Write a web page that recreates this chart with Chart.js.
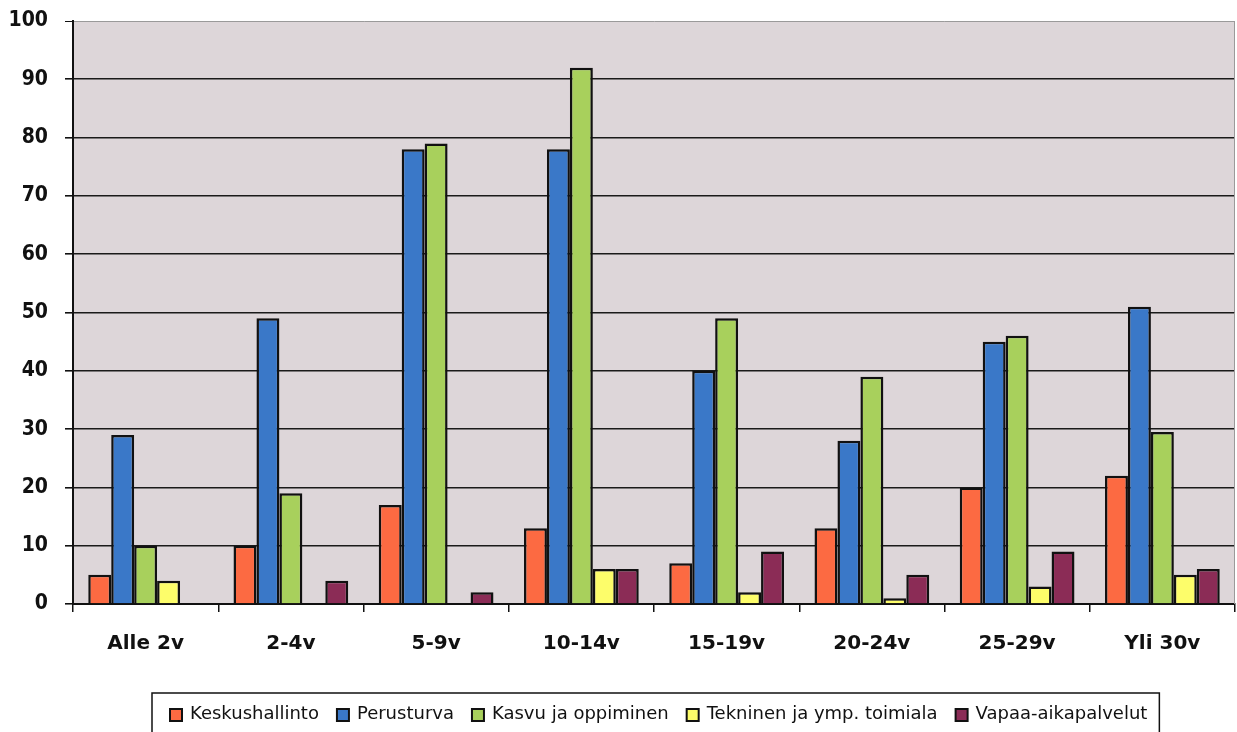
<!DOCTYPE html>
<html>
<head>
<meta charset="utf-8">
<script src="https://cdn.jsdelivr.net/npm/chart.js@4/dist/chart.umd.min.js"></script>
<style>
  html, body { margin: 0; padding: 0; background: #ffffff; }
  #wrap { width: 1237px; height: 732px; position: relative; }
</style>
</head>
<body>
<div id="wrap"><canvas id="c" width="1237" height="732"></canvas></div>
<script>
// Age-of-service groups (years)
const categories = ['Alle 2v', '2-4v', '5-9v', '10-14v', '15-19v', '20-24v', '25-29v', 'Yli 30v'];

// Headcount per department
const keskushallinto = [5, 10, 17, 13, 7, 13, 20, 22];
const perusturva     = [29, 49, 78, 78, 40, 28, 45, 51];
const kasvuJaOppiminen = [10, 19, 79, 92, 49, 39, 46, 29.5];
const tekninen       = [4, 0, 0, 6, 2, 1, 3, 5];
const vapaaAika      = [0, 4, 2, 6, 9, 5, 9, 6];

const seriesNames = ['Keskushallinto', 'Perusturva', 'Kasvu ja oppiminen', 'Tekninen ja ymp. toimiala', 'Vapaa-aikapalvelut'];
const seriesColors = ['#fc6a42', '#3a78c8', '#a8d05c', '#fdfd6a', '#8b2c56'];

const yTicks = [0, 10, 20, 30, 40, 50, 60, 70, 80, 90, 100];

const seriesValues = [keskushallinto, perusturva, kasvuJaOppiminen, tekninen, vapaaAika];

// Plot-area fill and frame
const plotFrame = {
  id: 'plotFrame',
  beforeDraw(chart) {
    const { ctx, chartArea: a } = chart;
    ctx.save();
    ctx.fillStyle = '#ddd6d9';
    ctx.fillRect(a.left, a.top, a.right - a.left, a.bottom - a.top);
    ctx.restore();
  },
  beforeDatasetsDraw(chart) {
    const { ctx, chartArea: a } = chart;
    ctx.save();
    ctx.strokeStyle = '#9a9a9a';
    ctx.lineWidth = 1;
    ctx.beginPath();
    ctx.moveTo(a.right - 0.5, a.top);
    ctx.lineTo(a.right - 0.5, a.bottom);
    ctx.stroke();
    ctx.restore();
  }
};

// Boxed legend below the axis labels
const boxedLegend = {
  id: 'boxedLegend',
  afterDraw(chart) {
    const { ctx } = chart;
    const font = '18px "DejaVu Sans"';
    ctx.save();
    ctx.font = font;
    const sq = 12, gapText = 8, gapItem = 18;
    const items = chart.data.datasets.map(ds => ({
      label: ds.label,
      color: ds.backgroundColor,
      w: ctx.measureText(ds.label).width
    }));
    let total = 0;
    items.forEach((it, i) => { total += sq + gapText + it.w + (i < items.length - 1 ? gapItem : 0); });
    const cx = 659;
    let x = Math.round(cx - total / 2);
    const cy = 715;
    // frame
    ctx.strokeStyle = '#111';
    ctx.lineWidth = 1.5;
    ctx.strokeRect(x - 18, 693, total + 30, 60);
    ctx.textBaseline = 'middle';
    items.forEach(it => {
      ctx.fillStyle = it.color;
      ctx.fillRect(x, cy - sq / 2, sq, sq);
      ctx.strokeStyle = '#111';
      ctx.lineWidth = 2;
      ctx.strokeRect(x, cy - sq / 2, sq, sq);
      ctx.fillStyle = '#111';
      ctx.fillText(it.label, x + sq + gapText, cy - 1);
      x += sq + gapText + it.w + gapItem;
    });
    ctx.restore();
  }
};

new Chart(document.getElementById('c'), {
  type: 'bar',
  data: {
    labels: categories,
    datasets: seriesNames.map((name, i) => ({
      label: name,
      data: seriesValues[i],
      backgroundColor: seriesColors[i],
      borderColor: '#111111',
      borderWidth: 2.5,
      categoryPercentage: 0.79,
      barPercentage: 1.0
    }))
  },
  options: {
    responsive: false,
    animation: false,
    devicePixelRatio: 1,
    layout: { padding: { top: 21, right: 2, left: 0, bottom: 68 } },
    plugins: {
      legend: { display: false },
      tooltip: { enabled: false }
    },
    scales: {
      x: {
        grid: {
          display: true,
          drawOnChartArea: false,
          drawTicks: true,
          tickLength: 8,
          color: '#111',
          lineWidth: 1.5,
          offset: true
        },
        border: { display: true, color: '#111', width: 2 },
        ticks: {
          color: '#111',
          padding: 20,
          font: { family: '"DejaVu Sans"', size: 20, weight: 'bold' }
        },
        afterFit(scale) { scale.height = 60; scale.paddingLeft = 0; scale.paddingRight = 0; }
      },
      y: {
        min: 0,
        max: 100,
        afterBuildTicks(scale) { scale.ticks = yTicks.map(v => ({ value: v })); },
        grid: {
          color: ctx => (ctx.tick && ctx.tick.value === 100 ? '#9a9a9a' : '#1a1a1a'),
          lineWidth: ctx => (ctx.tick && ctx.tick.value === 100 ? 1 : 1.6),
          tickLength: 8,
          tickColor: '#111'
        },
        border: { display: true, color: '#111', width: 2 },
        ticks: {
          color: '#111',
          padding: 17,
          font: { family: '"DejaVu Sans Condensed", "DejaVu Sans"', size: 21, weight: 'bold' }
        },
        afterFit(scale) { scale.width = 73; scale.paddingTop = 0; scale.paddingBottom = 0; }
      }
    }
  },
  plugins: [plotFrame, boxedLegend]
});
</script>
</body>
</html>
